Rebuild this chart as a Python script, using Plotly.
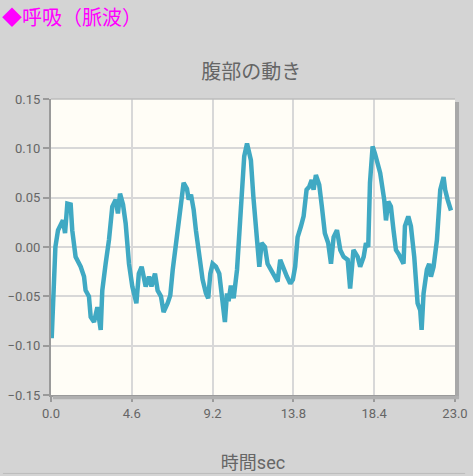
import plotly.graph_objs as go

# 時間 (sec)
time_sec = [0.04, 0.17, 0.25, 0.40, 0.55, 0.68, 0.80, 0.93, 1.12, 1.21, 1.40, 1.69, 1.88, 1.97,
            2.16, 2.26, 2.45, 2.64, 2.83, 2.92, 3.11, 3.30, 3.49, 3.68, 3.81, 3.93, 4.10, 4.25,
            4.44, 4.63, 4.86, 5.00, 5.16, 5.39, 5.58, 5.72, 5.92, 6.07, 6.26, 6.41, 6.64, 6.79,
            6.93, 7.06, 7.21, 7.40, 7.55, 7.74, 7.84, 7.97, 8.12, 8.25, 8.44, 8.63, 8.82, 8.95,
            9.07, 9.20, 9.39, 9.58, 9.73, 9.90, 10.02, 10.11, 10.24, 10.40, 10.59, 10.72, 10.86,
            11.00, 11.16, 11.29, 11.38, 11.52, 11.72, 11.86, 11.99, 12.18, 12.33, 12.52, 12.71,
            12.90, 13.05, 13.24, 13.43, 13.62, 13.77, 13.90, 14.04, 14.23, 14.38, 14.55, 14.70,
            14.84, 14.95, 15.08, 15.27, 15.42, 15.59, 15.78, 15.94, 16.09, 16.28, 16.47, 16.66,
            16.89, 17.03, 17.22, 17.46, 17.60, 17.80, 17.93, 18.06, 18.16, 18.31, 18.44, 18.59,
            18.74, 18.97, 19.07, 19.20, 19.35, 19.50, 19.64, 19.82, 20.07, 20.15, 20.34, 20.49,
            20.68, 20.87, 21.02, 21.10, 21.21, 21.40, 21.53, 21.63, 21.78, 21.97, 22.16, 22.35,
            22.44, 22.58, 22.77]

# 腹部の動き
abdomen = [-0.0925, -0.033, 0.000, 0.017, 0.022, 0.027, 0.014, 0.044, 0.043, 0.017, -0.010, -0.020,
           -0.030, -0.044, -0.050, -0.071, -0.076, -0.061, -0.084, -0.044, -0.017, 0.007, 0.041,
           0.048, 0.034, 0.054, 0.043, 0.024, -0.017, -0.040, -0.057, -0.027, -0.020, -0.040,
           -0.030, -0.040, -0.027, -0.044, -0.050, -0.066, -0.057, -0.049, -0.023, -0.003, 0.021,
           0.051, 0.065, 0.059, 0.048, 0.053, 0.038, 0.017, -0.010, -0.033, -0.047, -0.052, -0.027,
           -0.017, -0.020, -0.027, -0.050, -0.076, -0.047, -0.055, -0.039, -0.052, -0.023, 0.017,
           0.058, 0.092, 0.105, 0.095, 0.088, 0.051, 0.010, -0.020, 0.004, 0.000, -0.017, -0.023,
           -0.027, -0.035, -0.013, -0.023, -0.030, -0.037, -0.033, -0.020, 0.010, 0.021, 0.031,
           0.058, 0.061, 0.068, 0.058, 0.073, 0.063, 0.041, 0.014, 0.004, -0.017, 0.010, 0.017,
           -0.003, -0.010, -0.013, -0.042, -0.003, -0.010, -0.020, -0.010, 0.004, 0.000, 0.065,
           0.102, 0.095, 0.085, 0.075, 0.048, 0.027, 0.046, 0.041, 0.017, -0.003, -0.008, -0.017,
           0.021, 0.031, 0.021, -0.010, -0.057, -0.064, -0.084, -0.047, -0.023, -0.017, -0.030,
           -0.020, 0.007, 0.058, 0.071, 0.058, 0.048, 0.037]

x_ticks = [0.0, 4.6, 9.2, 13.8, 18.4, 23.0]
y_ticks = [-0.15, -0.10, -0.05, 0.00, 0.05, 0.10, 0.15]

FONT = "Roboto, Noto Sans CJK JP, sans-serif"


def draw_breath_graph():
    # 波形
    trace_1 = go.Scatter(
        x=time_sec,
        y=abdomen,
        mode="lines",
        line=dict(color="#40a9c3", width=4.5),
        showlegend=False
    )

    layout = go.Layout(
        width=473, height=476,
        paper_bgcolor="#d4d4d4",
        plot_bgcolor="#fffdf6",
        margin=dict(l=51, r=18, t=99, b=81),
        font=dict(family=FONT, color="#666666", size=13),
        title=dict(text="腹部の動き", x=0.531, xanchor="center", y=0.848, yanchor="middle",
                   font=dict(size=20, color="#666666")),
        xaxis=dict(
            range=[0, 23], tickvals=x_ticks, tickformat=".1f",
            showgrid=True, gridcolor="#d8d8d8", gridwidth=1.5,
            showline=True, linecolor="#9a9a9a", linewidth=2,
            ticks="outside", ticklen=5, tickcolor="#9a9a9a", tickwidth=1.5,
            zeroline=False, fixedrange=True, automargin=False,
            title=dict(text="時間sec", font=dict(size=18, color="#666666"), standoff=37)
        ),
        yaxis=dict(
            range=[-0.15, 0.15], tickvals=y_ticks, tickformat=".2f",
            showgrid=True, gridcolor="#d8d8d8", gridwidth=1.5,
            showline=True, linecolor="#9a9a9a", linewidth=2,
            ticks="outside", ticklen=6, tickcolor="#9a9a9a", tickwidth=1.5,
            zeroline=False, fixedrange=True, automargin=False
        ),
        annotations=[
            dict(text="◆呼吸（脈波）", xref="paper", yref="paper", x=-0.126, y=1.28,
                 xanchor="left", yanchor="middle", showarrow=False,
                 font=dict(size=20, color="#ff00ff", family="Noto Sans CJK JP"))
        ],
        shapes=[
            # 枠の上
            dict(type="line", xref="paper", yref="paper", x0=0, x1=1, y0=1, y1=1,
                 line=dict(color="#bdbdbd", width=1.5)),
            # 影
            dict(type="rect", xref="paper", yref="paper", x0=1, x1=1.01, y0=-0.012, y1=0.99,
                 fillcolor="#a8a8a8", line=dict(width=0)),
            dict(type="rect", xref="paper", yref="paper", x0=0.005, x1=1.01, y0=-0.014, y1=-0.003,
                 fillcolor="#b0b0b0", line=dict(width=0)),
            # 下の枠
            dict(type="line", xref="paper", yref="paper", x0=-0.119, x1=1.025, y0=-0.265, y1=-0.265,
                 line=dict(color="#bcbcbc", width=1))
        ]
    )

    figure = go.Figure(data=[trace_1], layout=layout)
    # ページの余白を消す
    figure.write_html("out.html", config={"displayModeBar": False},
                      post_script="document.body.style.margin='0';"
                                  "document.body.style.background='#d4d4d4';")


if __name__ == "__main__":
    draw_breath_graph()
